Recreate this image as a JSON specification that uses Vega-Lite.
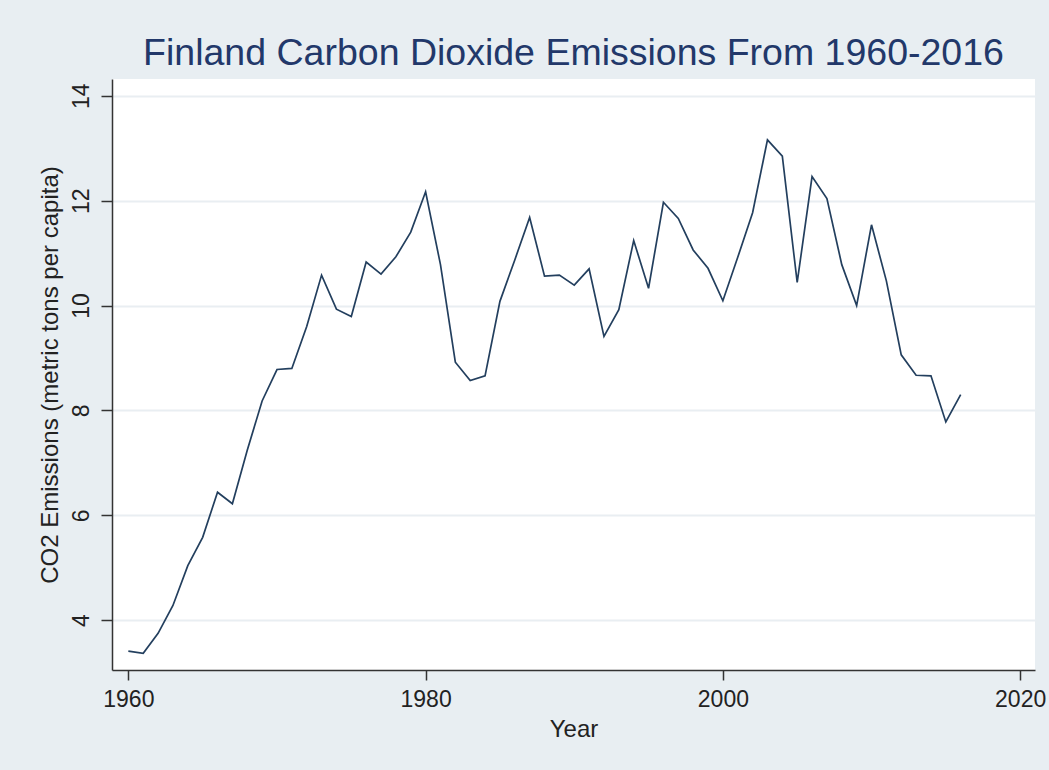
{
  "$schema": "https://vega.github.io/schema/vega-lite/v6.json",
  "autosize": {"type": "none"},
  "width": 923,
  "height": 591,
  "padding": {"left": 112, "top": 79, "right": 14, "bottom": 100},
  "background": "#e8eef2",
  "title": {
    "text": "Finland Carbon Dioxide Emissions From 1960-2016",
    "font": "Liberation Sans",
    "fontSize": 37.5,
    "fontWeight": "normal",
    "color": "#22386a",
    "anchor": "middle",
    "baseline": "alphabetic",
    "offset": -23
  },
  "config": {
    "view": {"fill": "white", "stroke": null},
    "axis": {
      "labelFont": "Liberation Sans",
      "titleFont": "Liberation Sans",
      "labelColor": "#222222",
      "titleColor": "#222222",
      "titleFontWeight": "normal",
      "domainColor": "#333333",
      "tickColor": "#333333",
      "domainWidth": 1.5,
      "tickWidth": 1.5
    }
  },
  "data": {
    "values": [
      {"year": 1960, "co2": 3.41},
      {"year": 1961, "co2": 3.37},
      {"year": 1962, "co2": 3.75},
      {"year": 1963, "co2": 4.28},
      {"year": 1964, "co2": 5.04},
      {"year": 1965, "co2": 5.58},
      {"year": 1966, "co2": 6.44},
      {"year": 1967, "co2": 6.22},
      {"year": 1968, "co2": 7.24},
      {"year": 1969, "co2": 8.18},
      {"year": 1970, "co2": 8.78},
      {"year": 1971, "co2": 8.80},
      {"year": 1972, "co2": 9.60},
      {"year": 1973, "co2": 10.58},
      {"year": 1974, "co2": 9.93},
      {"year": 1975, "co2": 9.79},
      {"year": 1976, "co2": 10.83},
      {"year": 1977, "co2": 10.60},
      {"year": 1978, "co2": 10.93},
      {"year": 1979, "co2": 11.40},
      {"year": 1980, "co2": 12.17},
      {"year": 1981, "co2": 10.78},
      {"year": 1982, "co2": 8.92},
      {"year": 1983, "co2": 8.57},
      {"year": 1984, "co2": 8.66},
      {"year": 1985, "co2": 10.08},
      {"year": 1986, "co2": 10.87},
      {"year": 1987, "co2": 11.68},
      {"year": 1988, "co2": 10.56},
      {"year": 1989, "co2": 10.58},
      {"year": 1990, "co2": 10.39},
      {"year": 1991, "co2": 10.70},
      {"year": 1992, "co2": 9.41},
      {"year": 1993, "co2": 9.92},
      {"year": 1994, "co2": 11.24},
      {"year": 1995, "co2": 10.33},
      {"year": 1996, "co2": 11.97},
      {"year": 1997, "co2": 11.66},
      {"year": 1998, "co2": 11.06},
      {"year": 1999, "co2": 10.71},
      {"year": 2000, "co2": 10.09},
      {"year": 2001, "co2": 10.92},
      {"year": 2002, "co2": 11.77},
      {"year": 2003, "co2": 13.16},
      {"year": 2004, "co2": 12.85},
      {"year": 2005, "co2": 10.44},
      {"year": 2006, "co2": 12.46},
      {"year": 2007, "co2": 12.04},
      {"year": 2008, "co2": 10.78},
      {"year": 2009, "co2": 10.00},
      {"year": 2010, "co2": 11.54},
      {"year": 2011, "co2": 10.47},
      {"year": 2012, "co2": 9.06},
      {"year": 2013, "co2": 8.67},
      {"year": 2014, "co2": 8.66},
      {"year": 2015, "co2": 7.78},
      {"year": 2016, "co2": 8.30}
    ]
  },
  "mark": {"type": "line", "color": "#233f5e", "strokeWidth": 1.7},
  "encoding": {
    "x": {
      "field": "year",
      "type": "quantitative",
      "scale": {"domain": [1958.9, 2021.0], "nice": false, "zero": false},
      "axis": {
        "title": "Year",
        "values": [1960, 1980, 2000, 2020],
        "format": "d",
        "grid": false,
        "tickSize": 10,
        "labelPadding": 8,
        "labelFontSize": 23,
        "titleFontSize": 24,
        "titlePadding": 6
      }
    },
    "y": {
      "field": "co2",
      "type": "quantitative",
      "scale": {"domain": [3.05, 14.32], "nice": false, "zero": false},
      "axis": {
        "title": "CO2 Emissions (metric tons per capita)",
        "values": [4, 6, 8, 10, 12, 14],
        "grid": true,
        "gridColor": "#e9eef2",
        "gridWidth": 2,
        "tickSize": 11,
        "labelAngle": -90,
        "labelPadding": 8,
        "labelFontSize": 23,
        "titleFontSize": 24,
        "titlePadding": 8
      }
    }
  }
}
